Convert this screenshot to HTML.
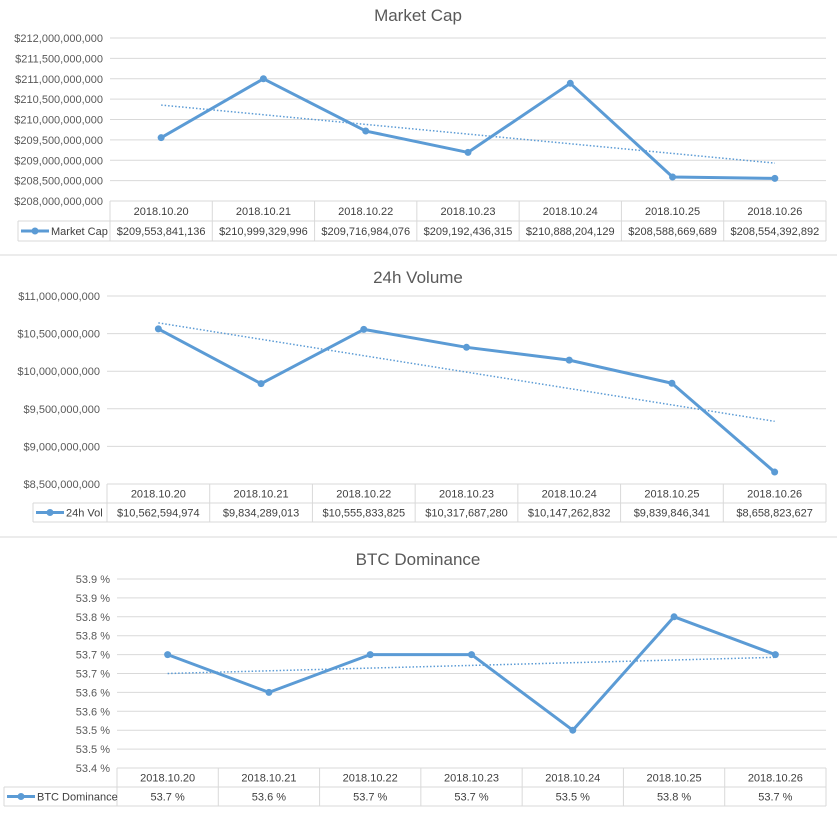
<!DOCTYPE html>
<html><head><meta charset="utf-8"><style>
html,body{margin:0;padding:0;background:#fff;}
svg{display:block;font-family:"Liberation Sans",sans-serif;}
</style></head><body>
<svg id="svg" width="837" height="819" viewBox="0 0 837 819"></svg>
<script>
const categories=["2018.10.20","2018.10.21","2018.10.22","2018.10.23","2018.10.24","2018.10.25","2018.10.26"];
const marketCapValues=[209553841136,210999329996,209716984076,209192436315,210888204129,208588669689,208554392892];
const marketCapLabels=["$209,553,841,136","$210,999,329,996","$209,716,984,076","$209,192,436,315","$210,888,204,129","$208,588,669,689","$208,554,392,892"];
const marketCapTicks=["$208,000,000,000","$208,500,000,000","$209,000,000,000","$209,500,000,000","$210,000,000,000","$210,500,000,000","$211,000,000,000","$211,500,000,000","$212,000,000,000"];
const volumeValues=[10562594974,9834289013,10555833825,10317687280,10147262832,9839846341,8658823627];
const volumeLabels=["$10,562,594,974","$9,834,289,013","$10,555,833,825","$10,317,687,280","$10,147,262,832","$9,839,846,341","$8,658,823,627"];
const volumeTicks=["$8,500,000,000","$9,000,000,000","$9,500,000,000","$10,000,000,000","$10,500,000,000","$11,000,000,000"];
const btcValues=[53.70,53.60,53.70,53.70,53.50,53.80,53.70];
const btcLabels=["53.7 %","53.6 %","53.7 %","53.7 %","53.5 %","53.8 %","53.7 %"];
const btcTicks=["53.4 %","53.5 %","53.5 %","53.6 %","53.6 %","53.7 %","53.7 %","53.8 %","53.8 %","53.9 %","53.9 %"];

const NS="http://www.w3.org/2000/svg";
const svg=document.getElementById('svg');
function mk(tag,attrs,parent,text){const e=document.createElementNS(NS,tag);for(const k in attrs)e.setAttribute(k,attrs[k]);if(text!==undefined)e.textContent=text;(parent||svg).appendChild(e);return e;}

function chart(o){
  const g=mk('g',{});
  
  
  const t=mk('text',{x:418,y:o.titleY,'text-anchor':'middle','font-size':17,fill:'#595959'},g,o.title);
  
  
  const n=categories.length, cw=(o.right-o.left)/n;
  const yScale=v=>o.bottom-(v-o.min)/(o.max-o.min)*(o.bottom-o.top);
  const xScale=i=>o.left+cw*(i+0.5);
  const nt=o.ticks.length;
  for(let i=0;i<nt;i++){
    const y=o.bottom-i*(o.bottom-o.top)/(nt-1);
    if(i>0){const l=mk('line',{x1:o.left,x2:o.right,y1:y,y2:y,stroke:'#d9d9d9','stroke-width':1},g);
      
      }
    const tl=mk('text',{x:o.left-7,y:y+4,'text-anchor':'end','font-size':11,fill:'#595959'},g,o.ticks[i]);
    
    
  }
  // trendline
  const xm=(n-1)/2; let ym=0;o.values.forEach(v=>ym+=v);ym/=n;
  let sxy=0,sxx=0;o.values.forEach((v,i)=>{sxy+=(i-xm)*(v-ym);sxx+=(i-xm)*(i-xm);});
  const b=sxy/sxx,a=ym-b*xm;
  const tr=mk('line',{x1:xScale(0),y1:yScale(a),x2:xScale(n-1),y2:yScale(a+b*(n-1)),stroke:'#5b9bd5','stroke-width':1.5,'stroke-dasharray':'1.5 2'},g);
  
  
  const pl=mk('polyline',{points:o.values.map((v,i)=>xScale(i)+','+yScale(v)).join(' '),fill:'none',stroke:'#5b9bd5','stroke-width':3,'stroke-linejoin':'round'},g);
  
  
  o.values.forEach((v,i)=>{const c=mk('circle',{cx:xScale(i),cy:yScale(v),r:3.5,fill:'#5b9bd5'},g);
    
    });
  // table
  const r1=o.bottom,r2=o.bottom+o.rowH,r3=o.bottom+2*o.rowH;
  const st={stroke:'#d9d9d9','stroke-width':1};
  mk('line',Object.assign({x1:o.left,x2:o.right,y1:r1,y2:r1},st),g);
  mk('line',Object.assign({x1:o.legX,x2:o.right,y1:r2,y2:r2},st),g);
  mk('line',Object.assign({x1:o.legX,x2:o.right,y1:r3,y2:r3},st),g);
  mk('line',Object.assign({x1:o.legX,x2:o.legX,y1:r2,y2:r3},st),g);
  for(let i=0;i<=n;i++){const x=o.left+i*cw;mk('line',Object.assign({x1:x,x2:x,y1:r1,y2:r3},st),g);}
  categories.forEach((c,i)=>{const e=mk('text',{x:xScale(i),y:r1+o.rowH/2+4,'text-anchor':'middle','font-size':11,fill:'#404040'},g,c);
    
    
    const f=mk('text',{x:xScale(i),y:r2+o.rowH/2+4,'text-anchor':'middle','font-size':11,fill:'#404040'},g,o.labels[i]);
    
    });
  const lg=mk('g',{},g);
  
  
  const ly=r2+o.rowH/2;
  mk('line',{x1:o.legX+3,x2:o.legX+31,y1:ly,y2:ly,stroke:'#5b9bd5','stroke-width':3},lg);
  mk('circle',{cx:o.legX+17,cy:ly,r:3.5,fill:'#5b9bd5'},lg);
  mk('text',{x:o.legX+33,y:ly+4,'font-size':11,fill:'#404040'},lg,o.legend);
}
chart({name:'market-cap-chart',title:'Market Cap',titleY:21,left:110,right:826,top:38,bottom:201,rowH:20,legX:18,min:208e9,max:212e9,ticks:marketCapTicks,values:marketCapValues,labels:marketCapLabels,legend:'Market Cap'});
chart({name:'volume-chart',title:'24h Volume',titleY:283,left:107,right:826,top:296,bottom:484,rowH:19,legX:33,min:8.5e9,max:11e9,ticks:volumeTicks,values:volumeValues,labels:volumeLabels,legend:'24h Vol'});
chart({name:'btc-dominance-chart',title:'BTC Dominance',titleY:565,left:117,right:826,top:579,bottom:768,rowH:19,legX:4,min:53.4,max:53.9,ticks:btcTicks,values:btcValues,labels:btcLabels,legend:'BTC Dominance'});
[255,537].forEach(y=>{const d=mk('line',{x1:0,x2:837,y1:y,y2:y,stroke:'#d9d9d9','stroke-width':1});
  
  });
</script>
</body></html>
